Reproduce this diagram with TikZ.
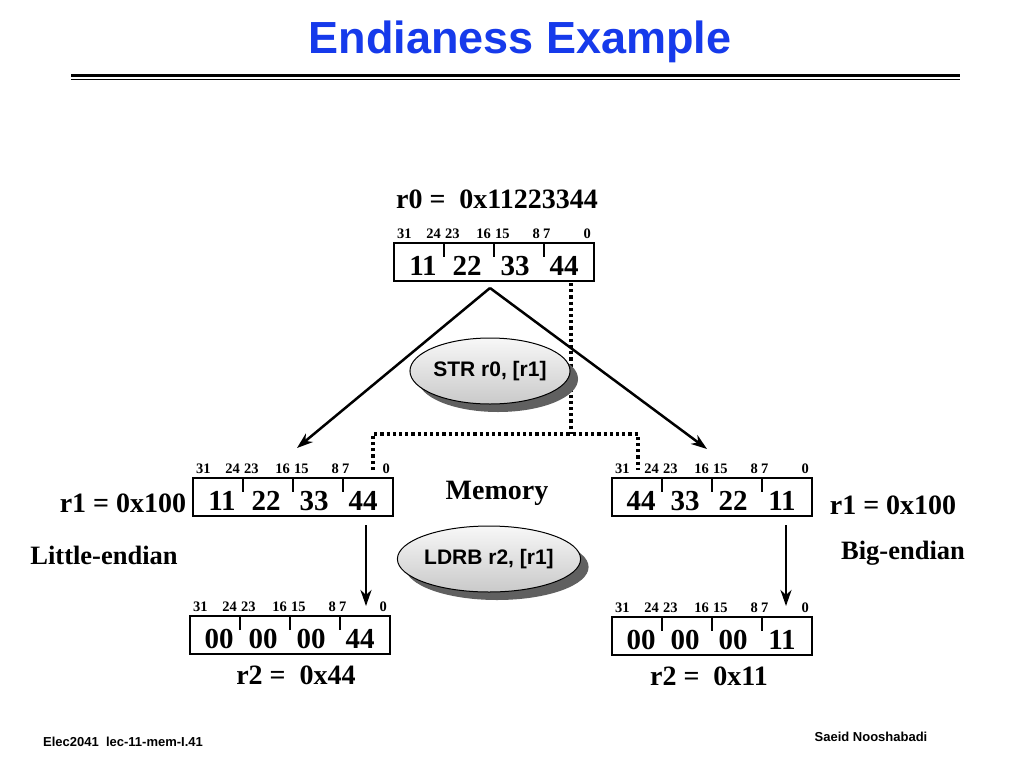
\documentclass[tikz,border=0pt]{standalone}
\usepackage{fontspec}
\setmainfont{Liberation Serif}
\newfontfamily\hv{Liberation Sans}
\usetikzlibrary{arrows.meta,shadows,shapes.geometric}
\definecolor{titleblue}{RGB}{22,58,235}
\newcommand\regdraw[7]{%
  \node[regbox] (#1) at ({#2+100},{#3+19}) {};
  \foreach \k in {1,2,3} {\draw[tickln] ({#2+50*\k},{#3}) -- ++(0,14);}
  \node[bit, anchor=base west] (#1-b31) at ({#2+3},{#3-5}) {31};
  \node[bit, anchor=base east] (#1-b24) at ({#2+47},{#3-5}) {24};
  \node[bit, anchor=base west] (#1-b23) at ({#2+51},{#3-5}) {23};
  \node[bit, anchor=base east] (#1-b16) at ({#2+97},{#3-5}) {16};
  \node[bit, anchor=base west] (#1-b15) at ({#2+101},{#3-5}) {15};
  \node[bit, anchor=base east] (#1-b8) at ({#2+146},{#3-5}) {8};
  \node[bit, anchor=base west] (#1-b7) at ({#2+149},{#3-5}) {7};
  \node[bit, anchor=base east] (#1-b0) at ({#2+197},{#3-5}) {0};
  \node[val] (#1-v1) at ({#2+29},{#3+32}) {#4};
  \node[val] (#1-v2) at ({#2+73},{#3+32}) {#5};
  \node[val] (#1-v3) at ({#2+121},{#3+32}) {#6};
  \node[val] (#1-v4) at ({#2+170},{#3+32}) {#7};
}
\begin{document}
\begin{tikzpicture}[x=1pt,y=-1pt,
  regbox/.style={draw, line width=1.4pt, minimum width=200pt, minimum height=38pt, inner sep=0pt},
  tickln/.style={line width=1.3pt},
  bit/.style={font=\fontsize{14.5}{16}\selectfont\bfseries, inner sep=0pt},
  val/.style={font=\fontsize{29}{32}\selectfont\bfseries, inner sep=0pt, anchor=base},
  lbl/.style={font=\fontsize{28}{31}\selectfont\bfseries, inner sep=0pt},
  arr/.style={line width=2.5pt, -{Stealth[length=16pt,width=11pt,inset=5pt]}},
  memline/.style={line width=3.2pt, dash pattern=on 3.2pt off 3pt},
  op/.style={ellipse, draw, line width=1pt, minimum width=146pt, minimum height=66pt, inner sep=0pt,
    top color=gray!6, bottom color=gray!42,
    drop shadow={shadow xshift=8pt, shadow yshift=-8pt, fill=gray!75!black, opacity=1},
    font=\hv\bfseries\fontsize{21}{24}\selectfont},
  foot/.style={font=\hv\bfseries\fontsize{13}{15}\selectfont, inner sep=0pt}]
\useasboundingbox (0,0) rectangle (1024,768);
\fill[white] (0,0) rectangle (1024,768);
% title
\node[font=\hv\bfseries\fontsize{45}{50}\selectfont, text=titleblue, inner sep=0pt] (title) at (520,42) {Endianess Example};
\coordinate (rA) at (71,75.5); \coordinate (rB) at (960,75.5);
\coordinate (rC) at (71,79.3); \coordinate (rD) at (960,79.3);
\draw[line width=3.5pt] (rA) -- (rB);
\draw[line width=1.3pt] (rC) -- (rD);
% registers
\node[lbl] (r0lbl) at (497,199) {r0 =\ \ 0x11223344};
\regdraw{top}{394}{243}{11}{22}{33}{44}
\regdraw{lm}{193}{478}{11}{22}{33}{44}
\regdraw{rm}{612}{478}{44}{33}{22}{11}
\regdraw{lb}{190}{616}{00}{00}{00}{44}
\regdraw{rb}{612}{617}{00}{00}{00}{11}
% dotted memory line
\coordinate (d0) at (571,283); \coordinate (dj) at (571,434);
\coordinate (dl) at (373,434); \coordinate (dr) at (638,434);
\coordinate (dle) at (373,470); \coordinate (dre) at (638,470);
\draw[memline] (d0) -- (dj);
\draw[memline] (dle) -- (dl) -- (dr) -- (dre);
% diagonal arrows
\coordinate (apex) at (490,288);
\coordinate (lt) at (297,448);
\coordinate (rt) at (707,449);
\draw[arr] (apex) -- (lt);
\draw[arr] (apex) -- (rt);
% vertical arrows
\coordinate (la0) at (366,525); \coordinate (la1) at (366,606);
\coordinate (ra0) at (786,525); \coordinate (ra1) at (786,606);
\draw[arr] (la0) -- (la1);
\draw[arr] (ra0) -- (ra1);
% ellipses
\node[op] (str) at (490,371) {STR r0, [r1]};
\node[op] (ldrb) at (489,559) {LDRB r2, [r1]};
% labels
\node[lbl] (memory) at (497,493) {Memory};
\node[lbl] (r1l) at (123,503) {r1 = 0x100};
\node[lbl] (r1r) at (893,505) {r1 = 0x100};
\node[font=\fontsize{26.5}{30}\selectfont\bfseries, inner sep=0pt] (little) at (104,555) {Little-endian};
\node[font=\fontsize{26.5}{30}\selectfont\bfseries, inner sep=0pt] (big) at (903,553) {Big-endian};
\node[lbl] (r2l) at (296,675) {r2 =\ \ 0x44};
\node[lbl] (r2r) at (709,676) {r2 =\ \ 0x11};
% footer
\node[foot, anchor=west] (f1) at (43,742) {Elec2041\ \ lec-11-mem-I.41};
\node[foot] (f2) at (871,737) {Saeid Nooshabadi};
\end{tikzpicture}
\end{document}
